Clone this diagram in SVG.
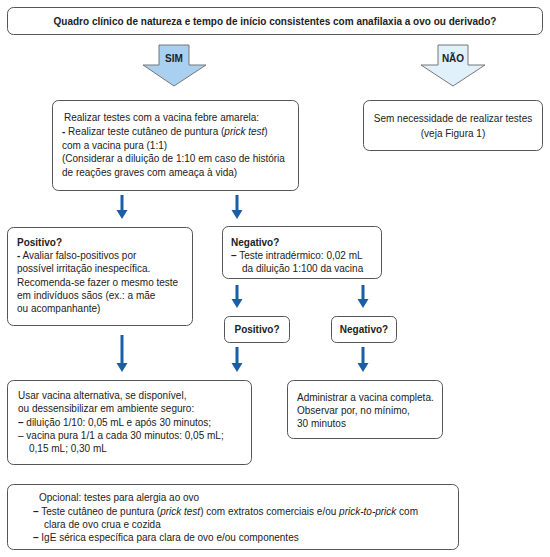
<svg xmlns="http://www.w3.org/2000/svg" width="550" height="557" viewBox="0 0 550 557">
<style>
text{font-family:"Liberation Sans",Arial,Helvetica,sans-serif;font-size:10px;fill:#222}
.b{font-weight:bold}
.i{font-style:italic}
.box{fill:#fff;stroke:#555;stroke-width:1}
.big{stroke:#777;stroke-width:1}
.ar{fill:#1a5ea8}
</style>
<g id="connectors">
<g id="sim-arrow">
<polygon class="big" points="159,45 189,45 189,65 206,65 174,86 143,65 159,65" fill="#a9d0f0"/>
<text class="b" x="174" y="62" text-anchor="middle">SIM</text>
</g>
<g id="nao-arrow">
<polygon class="big" points="438,45 468,45 468,65 485,65 453,86 421,65 438,65" fill="#e0f1fc"/>
<text class="b" x="453" y="62" text-anchor="middle">NÃO</text>
</g>
<path class="ar" d="M120.5,195 h3 v15 h4 l-5.5,9 l-5.5,-9 h4 z"/>
<path class="ar" d="M235.5,195 h3 v15 h4 l-5.5,9 l-5.5,-9 h4 z"/>
<path class="ar" d="M235.5,285 h3 v14 h4 l-5.5,9 l-5.5,-9 h4 z"/>
<path class="ar" d="M361.5,285 h3 v14 h4 l-5.5,9 l-5.5,-9 h4 z"/>
<path class="ar" d="M120.5,335 h3 v28 h4 l-5.5,9 l-5.5,-9 h4 z"/>
<path class="ar" d="M235.5,347 h3 v16 h4 l-5.5,9 l-5.5,-9 h4 z"/>
<path class="ar" d="M361.5,347 h3 v16 h4 l-5.5,9 l-5.5,-9 h4 z"/>
</g>
<g id="n-question">
<rect class="box" x="7.5" y="7.5" width="535" height="27" rx="6"/>
<text class="b" x="275" y="25" text-anchor="middle" font-size="10.7">Quadro clínico de natureza e tempo de início consistentes com anafilaxia a ovo ou derivado?</text>
</g>
<g id="n-tests">
<rect class="box" x="52.5" y="100.5" width="246" height="90" rx="6"/>
<text x="64" y="121"> Realizar testes com a vacina febre amarela:</text>
<text x="62" y="135"><tspan class="b">-</tspan> Realizar teste cutâneo de puntura (<tspan class="i">prick test</tspan>)</text>
<text x="62" y="149">com a vacina pura (1:1)</text>
<text x="62" y="162">(Considerar a diluição de 1:10 em caso de história</text>
<text x="62" y="176">de reações graves com ameaça à vida)</text>
</g>
<g id="n-notest">
<rect class="box" x="363.5" y="100.5" width="179" height="50" rx="6"/>
<text x="453" y="122" text-anchor="middle">Sem necessidade de realizar testes</text>
<text x="453" y="137" text-anchor="middle">(veja Figura 1)</text>
</g>
<g id="n-positive1">
<rect class="box" x="7.5" y="227.5" width="185" height="98" rx="6"/>
<text class="b" x="17" y="246">Positivo?</text>
<text x="17" y="259"><tspan class="b">-</tspan> Avaliar falso-positivos por</text>
<text x="17" y="272">possível irritação inespecífica.</text>
<text x="17" y="286">Recomenda-se fazer o mesmo teste</text>
<text x="17" y="299">em indivíduos sãos (ex.: a mãe</text>
<text x="17" y="312">ou acompanhante)</text>
</g>
<g id="n-negative1">
<rect class="box" x="222.5" y="226.5" width="159" height="52" rx="6"/>
<text class="b" x="231" y="246">Negativo?</text>
<text x="231" y="259"><tspan class="b">–</tspan> Teste intradérmico: 0,02 mL</text>
<text x="242" y="272">da diluição 1:100 da vacina</text>
</g>
<g id="n-positive2">
<rect class="box" x="224.5" y="316.5" width="65" height="26" rx="5"/>
<text class="b" x="257" y="333" text-anchor="middle">Positivo?</text>
</g>
<g id="n-negative2">
<rect class="box" x="331.5" y="316.5" width="65" height="26" rx="5"/>
<text class="b" x="364" y="333" text-anchor="middle">Negativo?</text>
</g>
<g id="n-alternative">
<rect class="box" x="7.5" y="380.5" width="244" height="84" rx="6"/>
<text x="18" y="399">Usar vacina alternativa, se disponível,</text>
<text x="18" y="412">ou dessensibilizar em ambiente seguro:</text>
<text x="18" y="426"><tspan class="b">–</tspan> diluição 1/10: 0,05 mL e após 30 minutos;</text>
<text x="18" y="439">– vacina pura 1/1 a cada 30 minutos: 0,05 mL;</text>
<text x="29" y="452">0,15 mL; 0,30 mL</text>
</g>
<g id="n-administer">
<rect class="box" x="287.5" y="380.5" width="155" height="58" rx="6"/>
<text x="297" y="401">Administrar a vacina completa.</text>
<text x="297" y="414">Observar por, no mínimo,</text>
<text x="297" y="427">30 minutos</text>
</g>
<g id="n-optional">
<rect class="box" x="7.5" y="484.5" width="451" height="65" rx="6"/>
<text x="39" y="501">Opcional: testes para alergia ao ovo</text>
<text x="33" y="515"><tspan class="b">–</tspan> Teste cutâneo de puntura (<tspan class="i">prick test</tspan>) com extratos comerciais e/ou <tspan class="i">prick-to-prick</tspan> com</text>
<text x="44" y="528">clara de ovo crua e cozida</text>
<text x="33" y="541"><tspan class="b">–</tspan> IgE sérica específica para clara de ovo e/ou componentes</text>
</g>
</svg>
